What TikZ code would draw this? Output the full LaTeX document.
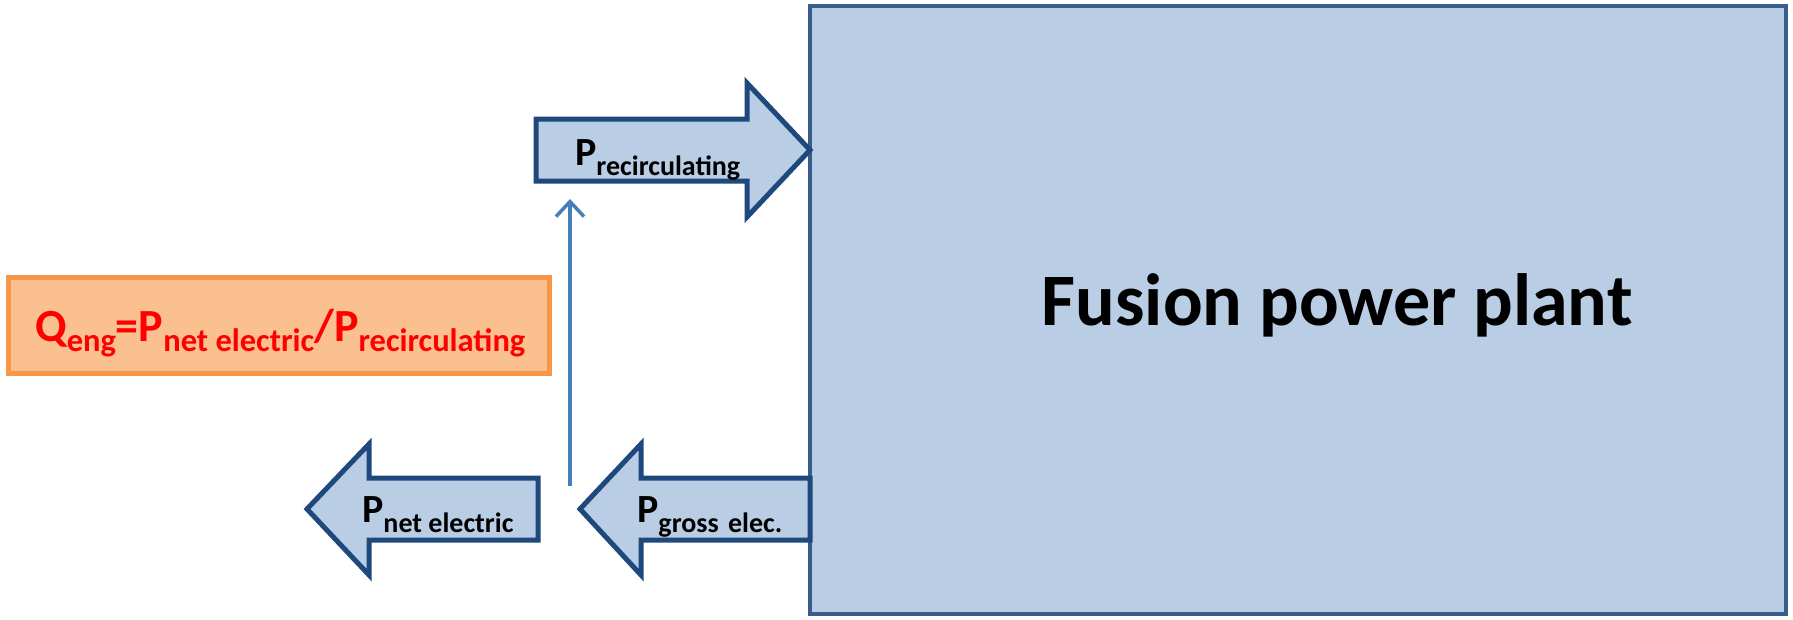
\documentclass[tikz,border=0pt]{standalone}
\usepackage{fontspec}
\setmainfont{Carlito}
\usetikzlibrary{arrows.meta}
\definecolor{plantfill}{HTML}{B9CDE5}
\definecolor{plantdraw}{HTML}{385D8A}
\definecolor{arrowdraw}{HTML}{1F497D}
\definecolor{thinblue}{HTML}{4A7EBB}
\definecolor{qfill}{HTML}{FAC090}
\definecolor{qdraw}{HTML}{F79646}
\definecolor{qred}{HTML}{FF0000}
\newcommand\subtxt[2]{\raisebox{-10pt}{\fontsize{#1}{#1}\selectfont #2}}
\begin{document}
\begin{tikzpicture}[x=1pt,y=-1pt,
  blockarrow/.style={draw=arrowdraw,fill=plantfill,line width=5pt,line join=miter},
  lbl/.style={anchor=base west,inner sep=0pt,font=\bfseries\fontsize{40}{40}\selectfont},
  qlbl/.style={anchor=base west,inner sep=0pt,text=qred,font=\bfseries\fontsize{46}{46}\selectfont}]
\useasboundingbox (0,0) rectangle (1793,619);
% plant box
\node[draw=plantdraw,fill=plantfill,line width=4pt,minimum width=976pt,minimum height=608pt,inner sep=0pt] (plant) at (1298,310) {};
\node[anchor=base,inner sep=0pt,font=\bfseries\fontsize{74}{74}\selectfont] (planttext) at (1337,325) {Fusion power plant};
% recirculating arrow
\draw[blockarrow] (536,119) -- (747,119) -- (747,83) -- (810,150) -- (747,217) -- (747,181) -- (536,181) -- cycle;
\node[lbl] (precirc) at (575,165) {P\subtxt{28}{recirculating}};
% gross arrow
\draw[blockarrow] (810,478) -- (641,478) -- (641,444) -- (580,509) -- (641,575) -- (641,540) -- (810,540) -- cycle;
\node[lbl] (pgross) at (637,522) {P\subtxt{28}{gross\,\,elec.}};
% net arrow
\draw[blockarrow] (538,478) -- (369,478) -- (369,444) -- (307,509) -- (369,575) -- (369,540) -- (538,540) -- cycle;
\node[lbl] (pnet) at (362,522) {P\subtxt{28}{net electric}};
% vertical feedback arrow
\coordinate (vbot) at (570,486);
\coordinate (vtop) at (570,199);
\draw[thinblue,line width=3.5pt,-{Straight Barb[length=15pt,width=28pt,line width=3.5pt]}] (vbot) -- (vtop);
% Q box
\node[draw=qdraw,fill=qfill,line width=5pt,minimum width=541pt,minimum height=96pt,inner sep=0pt] (qbox) at (278.5,325) {};
\node[qlbl] (qtext) at (35,341) {Q\subtxt{32.5}{eng}=P\subtxt{32.5}{net electric}/P\subtxt{32.5}{recirculating}};
\end{tikzpicture}
\end{document}
